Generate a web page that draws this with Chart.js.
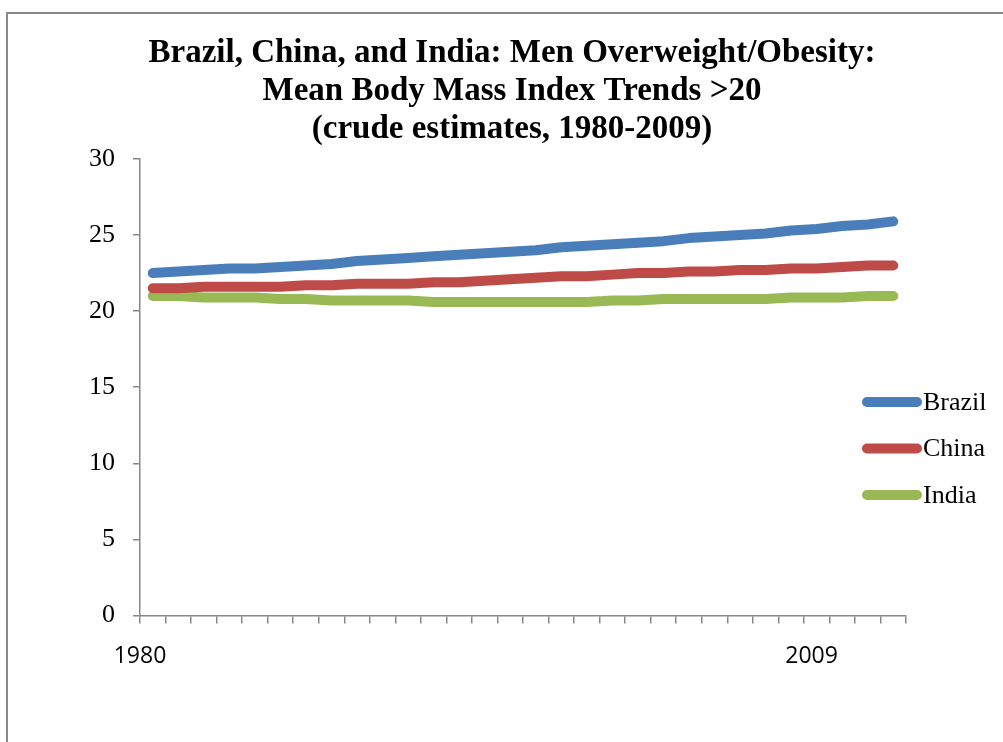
<!DOCTYPE html>
<html>
<head>
<meta charset="utf-8">
<title>Brazil, China, and India: Men Overweight/Obesity</title>
<script src="https://cdn.jsdelivr.net/npm/chart.js@4.4.1/dist/chart.umd.min.js"></script>
<style>
  html, body { margin: 0; padding: 0; background: #fff; overflow: hidden; }
  #frame { position: absolute; left: 6px; top: 12px; border: 2px solid #898989; }
  #chart { display: block; }
</style>
</head>
<body>
<div id="frame"><canvas id="chart" width="1008" height="728"></canvas></div>
<script>
(() => {
  'use strict';

  // ── Data ──────────────────────────────────────────────────
  const years = [
    '1980', '1981', '1982', '1983', '1984', '1985', '1986', '1987', '1988', '1989',
    '1990', '1991', '1992', '1993', '1994', '1995', '1996', '1997', '1998', '1999',
    '2000', '2001', '2002', '2003', '2004', '2005', '2006', '2007', '2008', '2009',
  ];
  const brazil = [
    22.5, 22.6, 22.7, 22.8, 22.8, 22.9, 23.0, 23.1, 23.3, 23.4,
    23.5, 23.6, 23.7, 23.8, 23.9, 24.0, 24.2, 24.3, 24.4, 24.5,
    24.6, 24.8, 24.9, 25.0, 25.1, 25.3, 25.4, 25.6, 25.7, 25.9,
  ];
  const china = [
    21.5, 21.5, 21.6, 21.6, 21.6, 21.6, 21.7, 21.7, 21.8, 21.8,
    21.8, 21.9, 21.9, 22.0, 22.1, 22.2, 22.3, 22.3, 22.4, 22.5,
    22.5, 22.6, 22.6, 22.7, 22.7, 22.8, 22.8, 22.9, 23.0, 23.0,
  ];
  const india = [
    21.0, 21.0, 20.9, 20.9, 20.9, 20.8, 20.8, 20.7, 20.7, 20.7,
    20.7, 20.6, 20.6, 20.6, 20.6, 20.6, 20.6, 20.6, 20.7, 20.7,
    20.8, 20.8, 20.8, 20.8, 20.8, 20.9, 20.9, 20.9, 21.0, 21.0,
  ];
  const xTickLabels = ['1980', '2009'];
  const titleLines = [
    'Brazil, China, and India: Men Overweight/Obesity:',
    'Mean Body Mass Index Trends >20',
    '(crude estimates, 1980-2009)',
  ];

  const axisGray = '#878787';
  const serif = '"Liberation Serif", "DejaVu Serif", serif';

  // ── Legend drawn over the right edge of the plot (Excel style) ──
  const sideLegend = {
    id: 'sideLegend',
    afterDraw(chart) {
      const { ctx, chartArea } = chart;
      const x0 = chartArea.right - 44;
      const len = 60;
      ctx.save();
      ctx.font = `26px ${serif}`;
      ctx.textBaseline = 'middle';
      ctx.textAlign = 'left';
      chart.data.datasets.forEach((ds, i) => {
        const y = 388 + i * 46.5;
        ctx.strokeStyle = ds.borderColor;
        ctx.lineWidth = 10;
        ctx.lineCap = 'round';
        ctx.beginPath();
        ctx.moveTo(x0 + 5, y);
        ctx.lineTo(x0 + len - 5, y);
        ctx.stroke();
        ctx.fillStyle = '#000';
        ctx.fillText(ds.label, x0 + len + 1, y + 1);
      });
      ctx.restore();
    },
  };

  const line = (label, data, color) => ({
    label, data,
    borderColor: color,
    backgroundColor: color,
    borderWidth: 10,
    borderCapStyle: 'round',
    borderJoinStyle: 'round',
    tension: 0,
    pointRadius: 0,
    fill: false,
  });

  new Chart(document.getElementById('chart'), {
    type: 'line',
    data: {
      labels: years,
      datasets: [
        line('Brazil', brazil, '#4A7EBB'),
        line('China', china, '#BE4B48'),
        line('India', india, '#98B954'),
      ],
    },
    plugins: [sideLegend],
    options: {
      responsive: false,
      animation: false,
      layout: { padding: { left: 80, right: 80, top: 0, bottom: 53 } },
      plugins: {
        legend: { display: false },
        tooltip: { enabled: false },
        title: {
          display: true,
          text: titleLines,
          color: '#000',
          font: { family: serif, size: 33, weight: 'bold', lineHeight: 38 / 33 },
          padding: { top: 20, bottom: 11 },
        },
      },
      scales: {
        x: {
          type: 'category',
          weight: 0,
          offset: true,
          grid: { display: true, drawOnChartArea: false, drawTicks: true, tickLength: 8, offset: true, color: axisGray, lineWidth: 1.5 },
          border: { display: true, color: axisGray, width: 1.5 },
          ticks: { display: false },
        },
        x2: {
          type: 'linear',
          position: 'bottom',
          weight: 1,
          min: 0,
          max: 30,
          grid: { display: false, drawTicks: false },
          border: { display: false },
          afterBuildTicks: (scale) => { scale.ticks = [{ value: 0 }, { value: 26.3 }]; },
          ticks: {
            autoSkip: false,
            maxRotation: 0,
            padding: 19,
            color: '#000',
            font: { family: '"Open Sans", sans-serif', size: 23 },
            callback: (v, i) => xTickLabels[i],
          },
        },
        y: {
          min: 0,
          max: 30,
          afterFit: (scale) => { scale.width = 52; },
          grid: { display: true, drawOnChartArea: false, drawTicks: true, tickLength: 7, color: axisGray, lineWidth: 1.5 },
          border: { display: true, color: axisGray, width: 1.5 },
          ticks: {
            stepSize: 5,
            padding: 18,
            color: '#000',
            font: { family: serif, size: 26 },
          },
        },
        // empty right-hand spacer so the title centres like the original
        y2: {
          position: 'right',
          afterFit: (scale) => { scale.width = 30; },
          grid: { display: false, drawTicks: false },
          border: { display: false },
          ticks: { display: false },
        },
      },
    },
  });
})();
</script>
</body>
</html>
